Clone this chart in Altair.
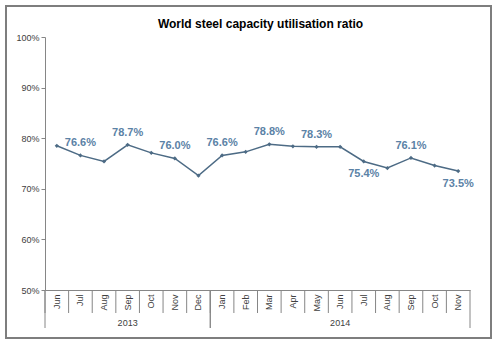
import altair as alt
import pandas as pd

TITLE = "World steel capacity utilisation ratio"
months = ["Jun", "Jul", "Aug", "Sep", "Oct", "Nov", "Dec",
          "Jan", "Feb", "Mar", "Apr", "May", "Jun", "Jul", "Aug", "Sep", "Oct", "Nov"]
years = ["2013"] * 7 + ["2014"] * 11
values = [78.5, 76.6, 75.4, 78.7, 77.1, 76.0, 72.6,
          76.6, 77.3, 78.8, 78.4, 78.3, 78.3, 75.4, 74.1, 76.1, 74.6, 73.5]
labels_above = ["2013-Jul", "2013-Sep", "2013-Nov", "2014-Jan", "2014-Mar", "2014-May", "2014-Sep"]
labels_below = ["2014-Jul", "2014-Nov"]

keys = [f"{y}-{m}" for y, m in zip(years, months)]
df = pd.DataFrame({"key": keys, "month": months, "year": years,
                   "value": [v / 100 for v in values]})
order = keys

# year groups
year_names = sorted(set(years))
year_rows = []
for yr in year_names:
    ks = [k for k, y in zip(keys, years) if y == yr]
    year_rows.append({"year": yr, "first": ks[0], "last": ks[-1], "mid": ks[(len(ks) - 1) // 2]})
ydf = pd.DataFrame(year_rows)

W, H = 425, 253
FONT = "Liberation Sans"
LINE = "#4d6b85"
LAB = "#5b82a6"
XS = alt.Scale(domain=order, paddingInner=0, paddingOuter=0)

xenc = alt.X("key:N", scale=XS,
             axis=alt.Axis(title=None, labelExpr="slice(datum.value, 5)", labelAngle=270,
                           ticks=False, domainColor="#868686", labelColor="#404040",
                           labelFont=FONT, labelFontSize=9, labelPadding=4))
yenc = alt.Y("value:Q", scale=alt.Scale(domain=[0.5, 1.0]),
             axis=alt.Axis(title=None, format=".0%", values=[0.5, 0.6, 0.7, 0.8, 0.9, 1.0],
                           grid=False, domainColor="#868686", tickColor="#868686",
                           tickSize=4, labelPadding=2, labelColor="#404040",
                           labelFont=FONT, labelFontSize=9))

base = alt.Chart(df)
line = base.mark_line(color=LINE, strokeWidth=1.5).encode(x=xenc, y=yenc)
pts = base.mark_point(shape="diamond", filled=True, size=18, color=LINE, opacity=1).encode(
    x=alt.X("key:N", scale=XS), y="value:Q")

above = base.transform_filter(alt.FieldOneOfPredicate(field="key", oneOf=labels_above)).mark_text(
    dy=-12, font=FONT, fontSize=11, fontWeight="bold", color=LAB).encode(
    x=alt.X("key:N", scale=XS), y="value:Q", text=alt.Text("value:Q", format=".1%"))
below = base.transform_filter(alt.FieldOneOfPredicate(field="key", oneOf=labels_below)).mark_text(
    dy=13, font=FONT, fontSize=11, fontWeight="bold", color=LAB).encode(
    x=alt.X("key:N", scale=XS), y="value:Q", text=alt.Text("value:Q", format=".1%"))

# month dividers
mdiv = base.mark_rule(color="#868686", strokeWidth=1).encode(
    x=alt.X("key:N", scale=XS, bandPosition=0), y=alt.value(H), y2=alt.value(H + 23))
ydiv_start = alt.Chart(ydf).mark_rule(color="#868686", strokeWidth=1).encode(
    x=alt.X("first:N", scale=XS, bandPosition=0), y=alt.value(H), y2=alt.value(H + 38))
ydiv_end = alt.Chart(ydf).mark_rule(color="#868686", strokeWidth=1).encode(
    x=alt.X("last:N", scale=XS, bandPosition=1), y=alt.value(H), y2=alt.value(H + 38))
ylab = alt.Chart(ydf).mark_text(font=FONT, fontSize=9, color="#404040", baseline="middle").encode(
    x=alt.X("mid:N", scale=XS), y=alt.value(H + 33), text="year:N")

frame = base.mark_rect(fill=None, stroke="#7f7f7f", strokeWidth=1.5).encode(
    x=alt.value(-39), x2=alt.value(446), y=alt.value(-31), y2=alt.value(301))

title = alt.Chart(pd.DataFrame({"t": [TITLE]})).mark_text(
    font=FONT, fontSize=12, fontWeight="bold", color="#000000", baseline="middle").encode(
    x=alt.value(W / 2 + 3), y=alt.value(-13), text="t:N")

chart = alt.layer(frame, line, pts, above, below, mdiv, ydiv_start, ydiv_end, ylab, title).properties(
    width=W, height=H,
    autosize=alt.AutoSizeParams(type="none"),
    padding={"left": 45, "top": 37, "right": 29, "bottom": 54},
    background="white",
).configure_view(stroke=None)

chart.save("out.html", embed_options={"renderer": "svg", "actions": False})
